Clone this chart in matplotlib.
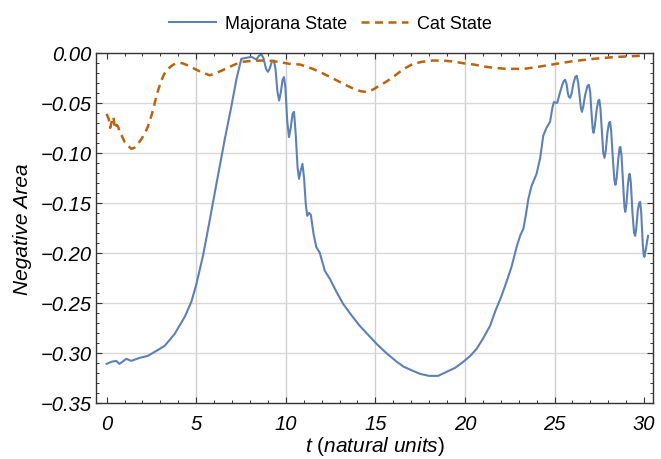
import numpy as np
import matplotlib
matplotlib.use("Agg")
import matplotlib.pyplot as plt
from matplotlib.ticker import MultipleLocator

# values
t_majorana = [0.0, 0.25, 0.53, 0.72, 1.1, 1.38, 1.84, 2.3, 2.78, 3.24, 3.8, 4.36,
              4.73, 5.0, 5.38, 5.75, 6.13, 6.6, 6.97, 7.25, 7.52, 7.8, 8.08, 8.36,
              8.5, 8.64, 8.75, 8.9, 9.0, 9.1, 9.22, 9.33, 9.42, 9.53, 9.63, 9.72,
              9.82, 9.9, 9.98, 10.08, 10.18, 10.27, 10.38, 10.46, 10.55, 10.66,
              10.74, 10.83, 10.93, 11.02, 11.12, 11.2, 11.3, 11.4, 11.55, 11.7,
              11.9, 12.18, 12.46, 12.83, 13.2, 13.65, 14.13, 14.6, 15.07, 15.6,
              16.2, 16.6, 17.1, 17.5, 18.0, 18.5, 18.98, 19.45, 19.9, 20.3, 20.65,
              21.0, 21.4, 21.7, 22.0, 22.3, 22.6, 22.9, 23.1, 23.26, 23.4, 23.54,
              23.72, 24.0, 24.2, 24.37, 24.55, 24.75, 24.88, 24.97, 25.06, 25.15,
              25.3, 25.45, 25.52, 25.59, 25.67, 25.74, 25.8, 25.87, 25.95, 26.05,
              26.16, 26.24, 26.32, 26.4, 26.47, 26.53, 26.6, 26.7, 26.84, 26.92,
              26.99, 27.06, 27.13, 27.18, 27.25, 27.35, 27.44, 27.5, 27.56, 27.64,
              27.72, 27.79, 27.86, 27.95, 28.04, 28.1, 28.16, 28.25, 28.34, 28.4,
              28.47, 28.56, 28.63, 28.68, 28.74, 28.83, 28.9, 28.95, 29.01, 29.1,
              29.16, 29.2, 29.26, 29.35, 29.44, 29.5, 29.56, 29.65, 29.73, 29.78,
              29.84, 29.92, 29.98, 30.02, 30.1, 30.22]
y_majorana = [-0.311, -0.309, -0.308, -0.311, -0.306, -0.308, -0.305, -0.303, -0.298,
              -0.293, -0.281, -0.264, -0.249, -0.232, -0.203, -0.168, -0.131, -0.086,
              -0.053, -0.026, -0.006, -0.005, -0.004, -0.0067, -0.003, -0.0017,
              -0.005, -0.016, -0.019, -0.016, -0.009, -0.0077, -0.015, -0.038,
              -0.0477, -0.040, -0.027, -0.0243, -0.035, -0.068, -0.0843, -0.076,
              -0.061, -0.059, -0.080, -0.115, -0.126, -0.118, -0.111, -0.125, -0.152,
              -0.163, -0.160, -0.162, -0.181, -0.194, -0.200, -0.218, -0.226, -0.239,
              -0.251, -0.262, -0.273, -0.282, -0.291, -0.300, -0.309, -0.314, -0.318,
              -0.321, -0.323, -0.323, -0.319, -0.315, -0.309, -0.303, -0.296, -0.286,
              -0.273, -0.258, -0.245, -0.230, -0.214, -0.193, -0.182, -0.176, -0.162,
              -0.146, -0.133, -0.121, -0.105, -0.083, -0.075, -0.069, -0.055, -0.049,
              -0.050, -0.050, -0.040, -0.031, -0.028, -0.027, -0.031, -0.040, -0.044,
              -0.045, -0.041, -0.031, -0.024, -0.023, -0.030, -0.043, -0.055, -0.059,
              -0.054, -0.043, -0.033, -0.032, -0.039, -0.059, -0.076, -0.080, -0.073,
              -0.057, -0.048, -0.047, -0.055, -0.078, -0.100, -0.105, -0.098, -0.080,
              -0.070, -0.069, -0.078, -0.104, -0.127, -0.132, -0.125, -0.106, -0.095,
              -0.094, -0.103, -0.132, -0.154, -0.159, -0.152, -0.131, -0.122, -0.121,
              -0.130, -0.160, -0.180, -0.183, -0.176, -0.157, -0.150, -0.149, -0.160,
              -0.190, -0.203, -0.204, -0.196, -0.183]

t_cat = [0.0, 0.12, 0.2, 0.3, 0.38, 0.47, 0.56, 0.65, 0.72, 0.85, 1.0, 1.2, 1.38, 1.55,
         1.75, 1.95, 2.12, 2.3, 2.5, 2.65, 2.78, 2.92, 3.05, 3.22, 3.43, 3.7, 3.98, 4.25,
         4.54, 4.8, 5.1, 5.4, 5.75, 6.0, 6.4, 6.87, 7.25, 7.6, 8.1, 8.7, 9.2, 9.66,
         10.2, 10.8, 11.5, 12.0, 12.46, 13.0, 13.4, 13.8, 14.2, 14.5, 14.88, 15.2, 15.6,
         16.0, 16.37, 16.7, 17.1, 17.6, 18.2, 18.8, 19.35, 20.1, 20.5, 21.0, 21.6,
         22.3, 23.3, 24.2, 25.1, 26.05, 27.2, 28.3, 29.4, 30.0]
y_cat = [-0.061, -0.066, -0.075, -0.068, -0.064, -0.076, -0.072, -0.074, -0.079,
         -0.083, -0.089, -0.093, -0.096, -0.095, -0.091, -0.086, -0.081, -0.074,
         -0.063, -0.053, -0.043, -0.035, -0.028, -0.021, -0.016, -0.012, -0.010,
         -0.0105, -0.0127, -0.015, -0.0177, -0.020, -0.0225, -0.021, -0.018, -0.014,
         -0.011, -0.009, -0.008, -0.0077, -0.008, -0.0093, -0.011, -0.0117, -0.016,
         -0.020, -0.024, -0.029, -0.0327, -0.036, -0.0385, -0.039, -0.0367, -0.033,
         -0.029, -0.024, -0.019, -0.015, -0.011, -0.009, -0.0077, -0.0078, -0.0087,
         -0.011, -0.0117, -0.0135, -0.015, -0.016, -0.016, -0.0137, -0.011, -0.0083,
         -0.006, -0.0043, -0.0033, -0.0028]

x_ticks = [0, 5, 10, 15, 20, 25, 30]
y_ticks = [0.0, -0.05, -0.10, -0.15, -0.20, -0.25, -0.30, -0.35]

blue = "#5e81b5"
orange = "#b9640f"

plt.rcParams["font.family"] = ["Liberation Sans", "DejaVu Sans"]
plt.rcParams["mathtext.fontset"] = "custom"
plt.rcParams["mathtext.it"] = "Liberation Sans:italic"
plt.rcParams["mathtext.rm"] = "Liberation Sans"

fig = plt.figure(figsize=(6.61, 4.60), dpi=100)
ax = fig.add_axes([0.145, 0.122, 0.843, 0.761])

ax.plot(t_majorana, y_majorana, color=blue, lw=1.5, label="Majorana State")
ax.plot(t_cat, y_cat, color=orange, lw=1.8, dashes=(3.2, 2.2), label="Cat State")

ax.set_xlim(-0.6, 30.5)
ax.set_ylim(-0.35, 0.0)
ax.set_xticks(x_ticks)
ax.set_yticks(y_ticks)
ax.set_xticklabels([str(v) for v in x_ticks], fontstyle="italic")
ax.set_yticklabels(["%.2f" % v if v == 0 else "\u2212%.2f" % abs(v) for v in y_ticks],
                   fontstyle="italic")
ax.xaxis.set_minor_locator(MultipleLocator(1))
ax.yaxis.set_minor_locator(MultipleLocator(0.01))
ax.tick_params(which="both", direction="in", top=True, right=True, labelsize=14.5,
               color="#333333")
ax.tick_params(which="major", length=4.5, width=0.8)
ax.tick_params(which="minor", length=2.3, width=0.7)
ax.tick_params(axis="x", which="major", pad=8)
ax.tick_params(axis="y", which="major", pad=3)
for s in ax.spines.values():
    s.set_color("#333333")
    s.set_linewidth(1.0)

for v in x_ticks[1:-1]:
    ax.axvline(v, color="#d0d0d0", lw=1.0, zorder=0)
for v in y_ticks[1:-1]:
    ax.axhline(v, color="#d8d8d8", lw=1.0, zorder=0)

ax.set_xlabel(r"$\it{t}$ ($\it{natural\ units}$)", fontsize=15, labelpad=1)
ax.set_ylabel("Negative Area", fontsize=15, fontstyle="italic", labelpad=6)

fig.legend(loc="upper center", bbox_to_anchor=(0.5, 1.0), ncol=2, frameon=False,
           fontsize=13, handlelength=2.6, columnspacing=0.8, handletextpad=0.5)

fig.savefig("out.png", dpi=100)
